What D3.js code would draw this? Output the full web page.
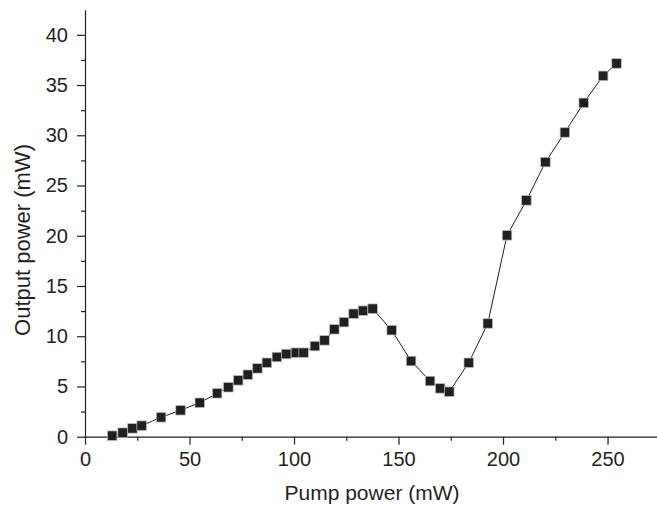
<!DOCTYPE html>
<meta charset="utf-8">
<style>
body { margin: 0; background: #fff; }
.axis path, .axis line { stroke: #231f20; stroke-width: 1.2px; }
.axis text { font: 20px "Liberation Sans", Arial, sans-serif; fill: #231f20; }
.title { font: 21px "Liberation Sans", Arial, sans-serif; fill: #231f20; }
</style>
<body>
<svg width="657" height="508"></svg>
<script src="https://d3js.org/d3.v7.min.js"></script>
<script>

// pump power (mW) and output power (mW)
var pump = [13, 18, 22.7, 27.1, 36.4, 45.7, 54.9, 63.2, 68.6, 73.3, 77.9, 82.5, 87, 91.8, 96.3, 100.9, 104.6,
  110, 114.6, 119.3, 123.9, 128.5, 133, 137.6, 146.7, 156, 165.1, 169.9, 174.3, 183.6, 192.7, 201.9,
  211.2, 220.3, 229.6, 238.6, 247.9, 254.3];
var output = [0.1, 0.4, 0.83, 1.1, 1.93, 2.63, 3.38, 4.32, 4.92, 5.61, 6.17, 6.8, 7.36, 7.93, 8.23, 8.36, 8.36,
  9.02, 9.59, 10.69, 11.4, 12.24, 12.54, 12.74, 10.6, 7.53, 5.54, 4.81, 4.48, 7.36, 11.27, 20.04,
  23.52, 27.33, 30.28, 33.23, 35.92, 37.15];
var xTicks = [0, 50, 100, 150, 200, 250];
var yTicks = [0, 5, 10, 15, 20, 25, 30, 35, 40];

var svg = d3.select("svg");
var x = d3.scaleLinear().domain([0, 274]).range([85, 657.7]);
var y = d3.scaleLinear().domain([0, 42.5]).range([436.7, 9.7]);

var data = pump.map(function(p, i) { return {x: p, y: output[i]}; });

// minor ticks
var xMinor = d3.range(25, 274, 50);
var yMinor = d3.range(2.5, 42.5, 5);

svg.append("g").attr("class", "axis")
    .attr("transform", "translate(0," + y(0) + ")")
    .call(d3.axisBottom(x).tickValues(xTicks).tickSize(8).tickPadding(7).tickSizeOuter(0));
svg.append("g").attr("class", "axis")
    .attr("transform", "translate(0," + y(0) + ")")
    .call(d3.axisBottom(x).tickValues(xMinor).tickSize(4).tickFormat("").tickSizeOuter(0))
    .select(".domain").remove();

svg.append("g").attr("class", "axis")
    .attr("transform", "translate(" + x(0) + ",0)")
    .call(d3.axisLeft(y).tickValues(yTicks).tickSize(8).tickPadding(9).tickSizeOuter(0));
svg.append("g").attr("class", "axis")
    .attr("transform", "translate(" + x(0) + ",0)")
    .call(d3.axisLeft(y).tickValues(yMinor).tickSize(4).tickFormat("").tickSizeOuter(0))
    .select(".domain").remove();

// line
svg.append("path")
    .datum(data)
    .attr("fill", "none")
    .attr("stroke", "#231f20")
    .attr("stroke-width", 1)
    .attr("d", d3.line().x(function(d) { return x(d.x); }).y(function(d) { return y(d.y); }));

// square markers
var s = 9.5;
svg.append("g").selectAll("rect")
    .data(data)
    .enter().append("rect")
    .attr("x", function(d) { return x(d.x) - s / 2; })
    .attr("y", function(d) { return y(d.y) - s / 2; })
    .attr("width", s)
    .attr("height", s)
    .attr("fill", "#231f20")
    .attr("stroke", "#bbb")
    .attr("stroke-width", 0.7);

// axis titles
svg.append("text").attr("class", "title")
    .attr("x", 372).attr("y", 500)
    .attr("text-anchor", "middle")
    .text("Pump power (mW)");
svg.append("text").attr("class", "title")
    .style("font-size", "22px")
    .attr("transform", "translate(30,240) rotate(-90)")
    .attr("text-anchor", "middle")
    .text("Output power (mW)");

</script>
